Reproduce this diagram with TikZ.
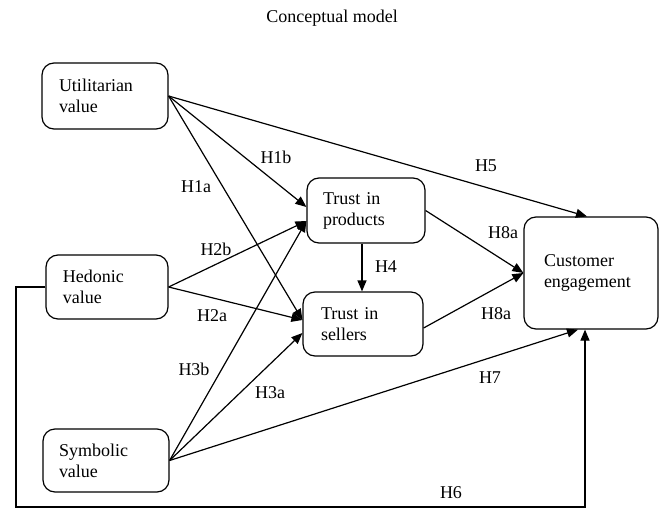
\documentclass[tikz,border=0pt]{standalone}
\usepackage{fontspec}
\setmainfont{Liberation Serif}
\usetikzlibrary{arrows.meta}
\begin{document}
\begin{tikzpicture}[x=1pt,y=-1pt,
  box/.style={draw,line width=1.2pt,rounded corners=12pt,align=left,inner ysep=0pt,font=\fontsize{18}{21}\selectfont},
  lbl/.style={font=\fontsize{18}{21}\selectfont,inner sep=0pt},
  conn/.style={line width=1.2pt,-{Triangle[length=11pt,width=9pt]}}]
\useasboundingbox (0,0) rectangle (665,509);
\node[lbl] (title) at (332,18) {Conceptual model};
\node[box,text width=92pt,inner xsep=17pt,minimum height=66pt] (util) at (105,96) {Utilitarian\\value};
\node[box,text width=88pt,inner xsep=17pt,minimum height=64pt] (hed) at (107,287) {Hedonic\\value};
\node[box,text width=94pt,inner xsep=16pt,minimum height=63pt] (sym) at (106,460.5) {Symbolic\\value};
\node[box,text width=86pt,inner xsep=16pt,minimum height=65pt] (tp) at (366,210.5) {Trust in\\products};
\node[box,text width=84pt,inner xsep=18pt,minimum height=64pt] (ts) at (363,324) {Trust in\\sellers};
\node[box,text width=94pt,inner xsep=20pt,minimum height=112pt] (ce) at (591,273) {Customer\\engagement};
\coordinate (h6c) at (16,507);
% connectors
\draw[conn] (util.east) -- ([yshift=3.5pt]tp.west);
\draw[conn] (util.east) -- ([yshift=4pt]ts.west);
\draw[conn] (util.east) -- ([xshift=-4pt]ce.north);
\draw[conn] (hed.east) -- ([yshift=-10.5pt]tp.west);
\draw[conn] (hed.east) -- ([yshift=4pt]ts.west);
\draw[conn] (sym.east) -- ([yshift=-10.5pt]tp.west);
\draw[conn] (sym.east) -- ([yshift=-9pt]ts.west);
\draw[conn] (sym.east) -- ([xshift=-13pt]ce.south);
\draw[conn] ([xshift=-4pt]tp.south) -- ([xshift=-4pt]tp.south |- ts.north);
\draw[conn] (tp.east) -- (ce.west);
\draw[conn] ([yshift=-4pt]ts.east) -- (ce.west);
\draw[conn] (hed.west) -| (h6c) -| ([xshift=-6pt]ce.south);
% labels
\node[lbl] (l1b) at (276,157) {H1b};
\node[lbl] (l1a) at (196,187) {H1a};
\node[lbl] (l5) at (486,166) {H5};
\node[lbl] (l2b) at (216,249) {H2b};
\node[lbl] (l2a) at (212,316) {H2a};
\node[lbl] (l4) at (386,267) {H4};
\node[lbl] (l8a1) at (503,233) {H8a};
\node[lbl] (l8a2) at (496,314) {H8a};
\node[lbl] (l3b) at (194,369) {H3b};
\node[lbl] (l3a) at (270,393) {H3a};
\node[lbl] (l7) at (490,378) {H7};
\node[lbl] (l6) at (451,493) {H6};
\end{tikzpicture}
\end{document}
